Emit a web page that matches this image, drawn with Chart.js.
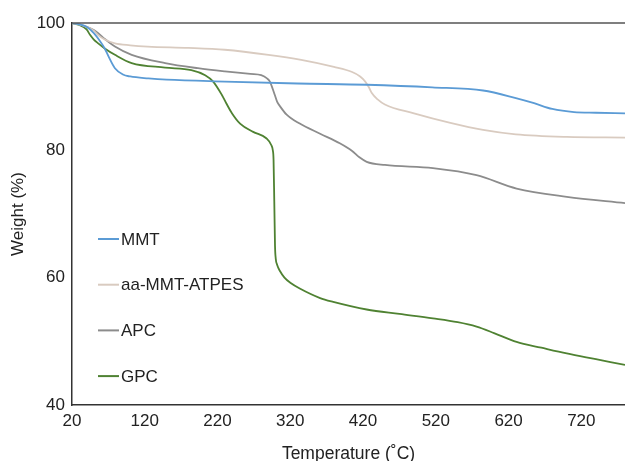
<!DOCTYPE html>
<html>
<head>
<meta charset="utf-8">
<script src="https://cdn.jsdelivr.net/npm/chart.js@4/dist/chart.umd.min.js"></script>
<style>
  html, body { margin: 0; padding: 0; background: #fff; }
  #c { display: block; }
</style>
</head>
<body>
<canvas id="c" width="625" height="461"></canvas>
<script>
// ---- Data ----
const seriesLabels = ["MMT", "aa-MMT-ATPES", "APC", "GPC"];

const mmtTemp   = [20, 30, 40, 50, 60, 65, 70, 79, 90, 100, 125, 150, 230, 330, 425, 515, 585, 630, 655, 680, 710, 740, 780];
const mmtWeight = [100, 99.8, 99.4, 98.4, 96.9, 96.0, 94.8, 92.9, 91.9, 91.6, 91.3, 91.1, 90.8, 90.5, 90.3, 89.9, 89.4, 88.2, 87.4, 86.5, 86.0, 85.9, 85.8];

const aaTemp   = [20, 30, 40, 50, 56, 65, 79, 100, 124, 180, 230, 290, 335, 380, 405, 416, 423, 428, 432, 440, 450, 490, 540, 585, 630, 700, 780];
const aaWeight = [100, 99.8, 99.4, 98.8, 98.1, 97.4, 96.8, 96.5, 96.3, 96.1, 95.8, 95.0, 94.2, 93.1, 92.3, 91.6, 90.8, 89.9, 89.0, 88.0, 87.2, 85.8, 84.3, 83.2, 82.5, 82.1, 82.0];

const apcTemp   = [20, 30, 40, 50, 56, 65, 79, 102, 148, 193, 230, 265, 280, 288, 292, 296, 299, 302, 306, 315, 333, 361, 388, 405, 415, 425, 450, 516, 576, 631, 700, 780];
const apcWeight = [100, 99.8, 99.4, 98.9, 98.4, 97.5, 96.3, 95.0, 93.7, 92.9, 92.4, 92.0, 91.8, 91.3, 90.8, 89.6, 88.6, 87.6, 86.9, 85.6, 84.2, 82.6, 81.1, 79.9, 78.9, 78.2, 77.7, 77.2, 76.1, 74.0, 72.7, 71.7];

const gpcTemp   = [20, 30, 40, 45, 50, 56, 65, 79, 102, 148, 184, 203, 214, 226, 232, 240, 251, 269, 287, 294, 296, 297, 298, 299, 300, 302, 306, 312, 320, 333, 361, 379, 425, 470, 516, 550, 576, 600, 631, 665, 700, 740, 780];
const gpcWeight = [100, 99.7, 99.0, 98.1, 97.4, 96.8, 96.0, 95.0, 93.7, 93.0, 92.6, 91.8, 90.8, 88.7, 87.4, 85.8, 84.2, 82.9, 81.9, 80.8, 80.0, 78.5, 72.0, 65.0, 63.0, 62.0, 61.0, 60.0, 59.2, 58.3, 56.8, 56.2, 55.0, 54.3, 53.6, 53.0, 52.3, 51.3, 49.9, 49.0, 48.1, 47.2, 46.3];

const xTicks = [20, 120, 220, 320, 420, 520, 620, 720];
const yTicks = [40, 60, 80, 100];

const seriesColors = ["#5b9bd5", "#d9cbc0", "#8c8c8c", "#4f8232"];

// ---- Build datasets ----
function pts(t, w) { return t.map((v, i) => ({ x: v, y: w[i] })); }
const allData = [pts(mmtTemp, mmtWeight), pts(aaTemp, aaWeight), pts(apcTemp, apcWeight), pts(gpcTemp, gpcWeight)];

const FONT = "'Liberation Sans', Arial, sans-serif";

const legendPlugin = {
  id: 'insideLegend',
  afterDraw(chart) {
    const ctx = chart.ctx;
    const a = chart.chartArea;
    ctx.save();
    chart.data.datasets.forEach((ds, i) => {
      const y = a.top + 216 + i * 45.7;
      ctx.strokeStyle = ds.borderColor;
      ctx.lineWidth = 2;
      ctx.beginPath();
      ctx.moveTo(a.left + 26, y);
      ctx.lineTo(a.left + 47, y);
      ctx.stroke();
      ctx.fillStyle = '#222';
      ctx.font = '17px ' + FONT;
      ctx.textBaseline = 'middle';
      ctx.textAlign = 'left';
      ctx.fillText(ds.label, a.left + 49, y + 1);
    });
    // top frame line
    ctx.strokeStyle = '#555';
    ctx.lineWidth = 1.5;
    ctx.beginPath();
    ctx.moveTo(a.left, a.top);
    ctx.lineTo(a.right, a.top);
    ctx.stroke();
    ctx.restore();
  }
};

new Chart(document.getElementById('c'), {
  type: 'line',
  data: {
    datasets: seriesLabels.map((lab, i) => ({
      label: lab,
      data: allData[i],
      borderColor: seriesColors[i],
      backgroundColor: seriesColors[i],
      borderWidth: 1.8,
      pointRadius: 0,
      fill: false,
      cubicInterpolationMode: 'monotone'
    }))
  },
  options: {
    responsive: false,
    animation: false,
    layout: { padding: { top: 23, right: 0, left: 0, bottom: 0 } },
    plugins: {
      legend: { display: false },
      tooltip: { enabled: false }
    },
    scales: {
      x: {
        type: 'linear',
        min: 20,
        max: 780,
        afterBuildTicks: (s) => { s.ticks = xTicks.map(v => ({ value: v })); },
        afterFit: (s) => { s.height = 56; },
        grid: { display: false, drawTicks: false },
        border: { display: true, color: '#333', width: 1.5 },
        ticks: { autoSkip: false, maxRotation: 0, color: '#222', font: { size: 17, family: FONT }, padding: 6 },
        title: { display: true, text: 'Temperature (˚C)', color: '#222', font: { size: 17.5, family: FONT }, padding: { top: 0, bottom: -4 } }
      },
      y: {
        type: 'linear',
        min: 40,
        max: 100,
        afterBuildTicks: (s) => { s.ticks = yTicks.map(v => ({ value: v })); },
        afterFit: (s) => { s.width = 72; },
        grid: { display: false, drawTicks: false },
        border: { display: true, color: '#333', width: 1.5 },
        ticks: { color: '#222', font: { size: 17, family: FONT }, padding: 7 },
        title: { display: true, text: 'Weight (%)', color: '#222', font: { size: 17, family: FONT }, padding: { top: 8, bottom: 0 } }
      }
    }
  },
  plugins: [legendPlugin]
});
</script>
</body>
</html>
